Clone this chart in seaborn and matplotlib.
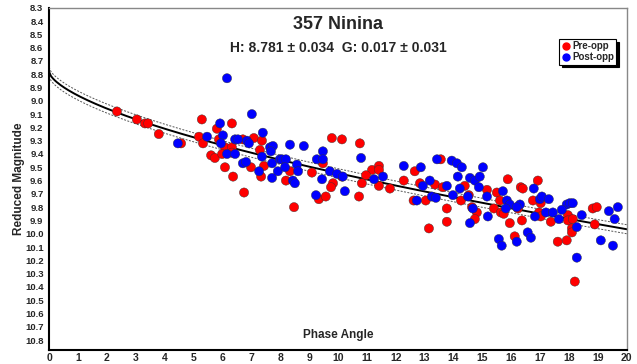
import numpy as np
import pandas as pd
import matplotlib
matplotlib.use("Agg")
import matplotlib.pyplot as plt
import seaborn as sns
from matplotlib.lines import Line2D

# ---------------- data ----------------
pre_phase = [2.35, 3.04, 3.32, 3.43, 3.80, 4.57, 5.29, 6.33, 5.81, 5.88, 5.19, 5.33, 6.09, 6.33,
             6.71, 7.09, 7.37, 7.30, 5.61, 5.74, 5.99, 6.33, 7.44, 6.09, 6.99, 7.34, 6.37, 8.20,
             8.34, 6.75, 8.48, 9.79, 10.14, 10.76, 9.48, 9.10, 10.14, 11.18, 11.42, 11.42, 10.97,
             9.83, 9.76, 10.83, 11.42, 11.80, 9.34, 9.58, 10.73, 12.66, 12.28, 12.84, 13.36, 13.63,
             12.62, 13.04, 13.77, 13.77, 13.15, 13.56, 14.39, 14.53, 14.26, 14.64, 14.81, 14.74,
             15.88, 16.92, 15.16, 15.50, 16.33, 16.40, 15.61, 16.75, 17.02, 18.82, 18.96, 15.40,
             15.64, 15.74, 16.23, 16.96, 17.02, 17.37, 17.96, 17.96, 18.13, 18.89, 18.10, 18.10,
             15.95, 16.37, 16.12, 17.61, 17.92, 18.20]
pre_mag = [9.08, 9.14, 9.17, 9.17, 9.25, 9.32, 9.14, 9.17, 9.21, 9.29, 9.27, 9.32, 9.35, 9.35,
           9.29, 9.28, 9.30, 9.37, 9.41, 9.43, 9.40, 9.39, 9.49, 9.50, 9.50, 9.57, 9.57, 9.60,
           9.53, 9.69, 9.80, 9.28, 9.29, 9.32, 9.47, 9.54, 9.57, 9.52, 9.49, 9.52, 9.56,
           9.62, 9.65, 9.62, 9.64, 9.66, 9.74, 9.72, 9.72, 9.53, 9.60, 9.62, 9.63, 9.65,
           9.75, 9.75, 9.81, 9.91, 9.96, 9.44, 9.64, 9.71, 9.75, 9.80, 9.84, 9.89,
           9.59, 9.60, 9.67, 9.69, 9.65, 9.66, 9.75, 9.75, 9.77, 9.81, 9.80, 9.81,
           9.84, 9.85, 9.81, 9.84, 9.87, 9.91, 9.86, 9.90, 9.89, 9.93, 9.96, 9.99,
           9.92, 9.90, 10.02, 10.06, 10.05, 10.36]

post_phase = [4.46, 6.16, 7.02, 5.92, 6.02, 5.47, 5.95, 6.44, 6.54, 6.85, 6.92, 7.40, 7.65, 7.75,
              7.68, 8.34, 6.16, 6.44, 6.71, 6.82, 7.37, 7.72, 7.99, 8.06, 8.20, 8.58, 7.27, 7.72,
              7.92, 8.44, 8.51, 8.82, 9.48, 9.27, 9.48, 10.80, 8.17, 8.62, 9.72, 9.97, 10.17,
              11.56, 11.25, 9.45, 10.24, 9.24, 12.28, 12.87, 13.18, 12.94, 13.77, 13.25, 13.39,
              12.73, 13.43, 13.94, 14.12, 14.29, 14.15, 14.57, 14.74, 14.22, 13.98, 14.88, 14.50,
              14.67, 14.57, 15.02, 14.91, 15.71, 16.78, 15.16, 15.85, 15.95, 16.30, 16.99, 17.06,
              17.30, 17.92, 18.03, 18.13, 19.38, 19.69, 15.81, 16.19, 16.82, 17.20, 17.44, 17.75,
              17.65, 18.27, 18.44, 19.58, 15.19, 16.57, 16.68, 16.19, 15.57, 15.67, 19.10, 19.52,
              18.27]
post_mag = [9.32, 8.83, 9.10, 9.17, 9.26, 9.27, 9.32, 9.29, 9.29, 9.30, 9.32, 9.24, 9.35, 9.34,
            9.38, 9.33, 9.40, 9.40, 9.47, 9.46, 9.42, 9.47, 9.44, 9.44, 9.44, 9.48, 9.53, 9.58,
            9.53, 9.60, 9.62, 9.34, 9.38, 9.44, 9.44, 9.43, 9.50, 9.53, 9.53, 9.55, 9.57,
            9.57, 9.59, 9.59, 9.68, 9.71, 9.49, 9.50, 9.60, 9.64, 9.64, 9.72, 9.73,
            9.75, 9.44, 9.45, 9.47, 9.50, 9.57, 9.58, 9.60, 9.66, 9.71, 9.65, 9.72,
            9.81, 9.92, 9.50, 9.57, 9.68, 9.66, 9.72, 9.75, 9.78, 9.78, 9.74, 9.72,
            9.74, 9.78, 9.77, 9.77, 9.83, 9.80, 9.81, 9.80, 9.87, 9.84, 9.84, 9.82,
            9.89, 9.95, 9.86, 9.89, 9.87, 9.99, 10.03, 10.06, 10.04, 10.09, 10.05, 10.09,
            10.18]

H_fit, H_err = 8.781, 0.034
G_fit, G_err = 0.017, 0.031
title_text = "357 Ninina"
subtitle_text = "H: 8.781 ± 0.034  G: 0.017 ± 0.031"
group_labels = ["Pre-opp", "Post-opp"]
x_ticks = list(range(0, 21))
y_ticks = [round(8.3 + 0.1 * i, 1) for i in range(26)]

# ---------------- model ----------------
def hg_mag(alpha_deg, H, G):
    t = np.tan(np.radians(alpha_deg) / 2.0)
    phi1 = np.exp(-3.33 * t ** 0.63)
    phi2 = np.exp(-1.87 * t ** 1.22)
    return H - 2.5 * np.log10((1 - G) * phi1 + G * phi2)

df = pd.DataFrame({
    "phase": pre_phase + post_phase,
    "mag": pre_mag + post_mag,
    "group": [group_labels[0]] * len(pre_phase) + [group_labels[1]] * len(post_phase),
})

sns.set_style("white")
plt.rcParams["font.family"] = ["Liberation Sans", "DejaVu Sans"]

fig = plt.figure(figsize=(6.37, 3.64), dpi=100)
ax = fig.add_axes([0.077, 0.0385, 0.907, 0.94])

palette = {group_labels[0]: "#ff0000", group_labels[1]: "#0000ff"}

alpha_grid = np.linspace(0, 20, 300)
curve = pd.DataFrame({"phase": alpha_grid, "mag": hg_mag(alpha_grid, H_fit, G_fit)})
lo = pd.DataFrame({"phase": alpha_grid, "mag": hg_mag(alpha_grid, H_fit - H_err, G_fit)})
hi = pd.DataFrame({"phase": alpha_grid, "mag": hg_mag(alpha_grid, H_fit + H_err, G_fit)})

sns.lineplot(data=lo, x="phase", y="mag", ax=ax, color="#555555", lw=0.7, ls=(0, (2, 1.5)), zorder=1)
sns.lineplot(data=hi, x="phase", y="mag", ax=ax, color="#555555", lw=0.7, ls=(0, (2, 1.5)), zorder=1)
sns.lineplot(data=curve, x="phase", y="mag", ax=ax, color="black", lw=1.4, zorder=2)

sns.scatterplot(data=df, x="phase", y="mag", hue="group", palette=palette, ax=ax,
                s=44, edgecolor="#333333", linewidth=0.3, legend=False, zorder=3)

ax.set_xlim(0, 20)
ax.set_ylim(10.875, 8.3)
ax.set_xticks(x_ticks)
ax.set_xticklabels([str(v) for v in x_ticks], fontweight="bold", fontsize=7.5)
ax.set_yticks(y_ticks)
ax.set_yticklabels([f"{v:.1f}" for v in y_ticks], fontweight="bold", fontsize=6.8)
ax.tick_params(axis="x", direction="in", length=3, width=1, pad=2, color="black")
ax.tick_params(axis="y", direction="out", length=3, width=1, pad=1, color="black")
ax.set_xlabel("")
ax.set_ylabel("Reduced Magnitude", fontweight="bold", fontsize=8.5)
ax.yaxis.set_label_coords(-0.041, 0.5)

for side in ["left", "bottom"]:
    ax.spines[side].set_color("black")
    ax.spines[side].set_linewidth(1.5)
for side in ["top", "right"]:
    ax.spines[side].set_color("#888888")
    ax.spines[side].set_linewidth(1.0)

ax.text(0.5, 0.95, title_text, transform=ax.transAxes, ha="center", va="center",
        fontsize=13, fontweight="bold")
ax.text(0.5, 0.883, subtitle_text, transform=ax.transAxes, ha="center", va="center",
        fontsize=10, fontweight="bold")
ax.text(0.5, 0.045, "Phase Angle", transform=ax.transAxes, ha="center", va="center",
        fontsize=8.5, fontweight="bold")

handles = [Line2D([0], [0], marker="o", ls="", color=palette[g], markersize=5) for g in group_labels]
leg = ax.legend(handles, group_labels, loc="upper right", bbox_to_anchor=(0.985, 0.915),
                frameon=True, fancybox=False, shadow={"color": "black", "alpha": 1.0},
                prop={"weight": "bold", "size": 7}, handletextpad=0.1, borderpad=0.25,
                labelspacing=0.1, handlelength=1.0, borderaxespad=0.2)
leg.get_frame().set_edgecolor("black")
leg.get_frame().set_linewidth(0.8)

fig.savefig("out.png", dpi=100, facecolor="white")
